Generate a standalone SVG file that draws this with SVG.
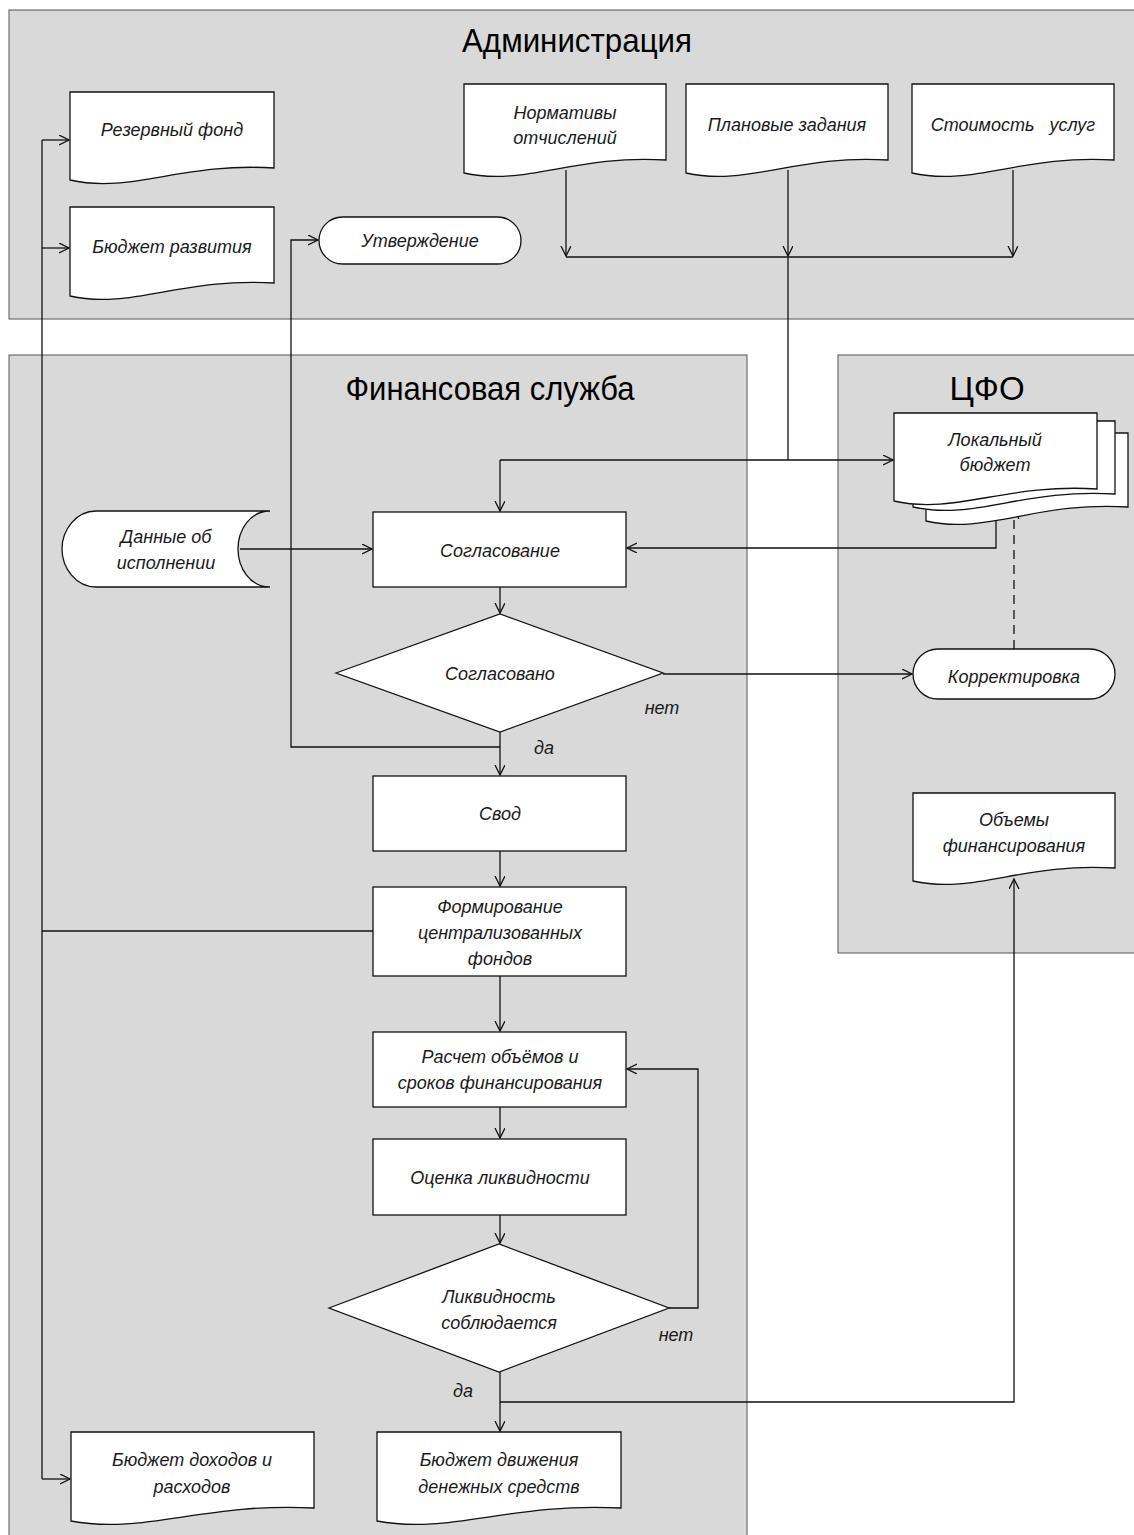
<svg xmlns="http://www.w3.org/2000/svg" width="1134" height="1535" viewBox="0 0 1134 1535">
<style>
.lane{fill:#d9d9d9;stroke:#555;stroke-width:1}
.sh{fill:#fff;stroke:#111;stroke-width:1.3}
.t{font-family:"Liberation Sans",Arial,sans-serif;font-style:italic;font-size:18px;text-anchor:middle;fill:#1a1a1a}
.h{font-family:"Liberation Sans",Arial,sans-serif;font-size:33px;text-anchor:middle;fill:#000}
.c{fill:none;stroke:#111;stroke-width:1.3}
.a{marker-end:url(#arr)}
.d{stroke-dasharray:9 6}
</style>
<defs>
<marker id="arr" markerWidth="12" markerHeight="12" refX="10" refY="5" orient="auto" markerUnits="userSpaceOnUse">
<path d="M0,0 L10,5 L0,10" fill="none" stroke="#111" stroke-width="1.3"/>
</marker>
</defs>
<rect width="1134" height="1535" fill="#fff"/>
<g id="lanes">
<rect class="lane" x="9" y="10" width="1140" height="309"/>
<rect class="lane" x="9" y="355" width="738" height="1190"/>
<rect class="lane" x="838" y="355" width="310" height="598"/>
<text class="h" x="577" y="52" textLength="230" lengthAdjust="spacingAndGlyphs">Администрация</text>
<text class="h" x="490" y="400" textLength="289" lengthAdjust="spacingAndGlyphs">Финансовая служба</text>
<text class="h" x="987" y="400">ЦФО</text>
</g>
<g id="connectors">
<path class="c a" d="M566,170 V256"/>
<path class="c a" d="M788,170 V256"/>
<path class="c a" d="M1013,170 V256"/>
<path class="c" d="M566,257 H1013"/>
<path class="c" d="M788,257 V460"/>
<path class="c a" d="M500,460 H893"/>
<path class="c a" d="M500,460 V511"/>
<path class="c a" d="M996,498 V548 H627"/>
<path class="c a" d="M240,549 H372"/>
<path class="c a" d="M500,587 V613"/>
<path class="c a" d="M663,674 H912"/>
<path class="c d a" d="M1014,649 V509"/>
<path class="c a" d="M500,732 V775"/>
<path class="c a" d="M500,747 H291 V240 H318"/>
<path class="c a" d="M500,851 V886"/>
<path class="c" d="M373,931 H42"/>
<path class="c" d="M42,140 V1479"/>
<path class="c a" d="M42,140 H69"/>
<path class="c a" d="M42,248 H69"/>
<path class="c a" d="M42,1479 H70"/>
<path class="c a" d="M500,976 V1031"/>
<path class="c a" d="M500,1107 V1138"/>
<path class="c a" d="M500,1215 V1243"/>
<path class="c a" d="M669,1308 H698 V1069 H627"/>
<path class="c a" d="M500,1372 V1431"/>
<path class="c a" d="M500,1402 H1014 V879"/>
<text class="t" x="662" y="714">нет</text>
<text class="t" x="544" y="754">да</text>
<text class="t" x="676" y="1341">нет</text>
<text class="t" x="463" y="1397">да</text>
</g>
<g id="rezervny-fond">
<path class="sh" d="M70,92 H274 V168 C182,162 131,194 70,180 Z"/>
<text class="t" x="172" y="136">Резервный фонд</text>
</g>
<g id="byudzhet-razvitiya">
<path class="sh" d="M70,207 H274 V283 C182,277 131,310 70,296 Z"/>
<text class="t" x="172" y="253">Бюджет развития</text>
</g>
<g id="utverzhdenie">
<rect class="sh" x="319" y="217" width="202" height="47" rx="23.5"/>
<text class="t" x="420" y="247">Утверждение</text>
</g>
<g id="normativy">
<path class="sh" d="M464,84 H666 V160 C575,154 525,187 464,173 Z"/>
<text class="t" x="565" y="119">Нормативы</text>
<text class="t" x="565" y="144">отчислений</text>
</g>
<g id="planovye">
<path class="sh" d="M686,84 H888 V160 C797,154 747,187 686,173 Z"/>
<text class="t" x="787" y="131">Плановые задания</text>
</g>
<g id="stoimost">
<path class="sh" d="M912,84 H1114 V160 C1023,154 973,187 912,173 Z"/>
<text class="t" x="1013" y="131" style="white-space:pre">Стоимость   услуг</text>
</g>
<g id="lokalny-byudzhet">
<path class="sh" d="M926,433 H1128 V507 C1037,501 987,535 926,521 Z"/>
<path class="sh" d="M913,421 H1115 V494 C1024,488 974,521 913,507 Z"/>
<path class="sh" d="M894,413 H1097 V489 C1006,483 955,515 894,501 Z"/>
<text class="t" x="995" y="446">Локальный</text>
<text class="t" x="995" y="471">бюджет</text>
</g>
<g id="dannye">
<path class="sh" d="M96,511 H270 C250,511 238,530 238,549 C238,568 250,587 270,587 H96 C76,587 62,568 62,549 C62,530 76,511 96,511 Z"/>
<text class="t" x="166" y="543">Данные об</text>
<text class="t" x="166" y="569">исполнении</text>
</g>
<g id="soglasovanie">
<rect class="sh" x="373" y="512" width="253" height="75"/>
<text class="t" x="500" y="557">Согласование</text>
</g>
<g id="soglasovano">
<path class="sh" d="M336,673 L500,614 L663,673 L500,732 Z"/>
<text class="t" x="500" y="680">Согласовано</text>
</g>
<g id="korrektirovka">
<rect class="sh" x="913" y="649" width="202" height="50" rx="25"/>
<text class="t" x="1014" y="683">Корректировка</text>
</g>
<g id="svod">
<rect class="sh" x="373" y="776" width="253" height="75"/>
<text class="t" x="500" y="820">Свод</text>
</g>
<g id="formirovanie">
<rect class="sh" x="373" y="887" width="253" height="89"/>
<text class="t" x="500" y="913">Формирование</text>
<text class="t" x="500" y="939">централизованных</text>
<text class="t" x="500" y="965">фондов</text>
</g>
<g id="obemy">
<path class="sh" d="M913,793 H1115 V868 C1024,862 974,895 913,881 Z"/>
<text class="t" x="1014" y="826">Объемы</text>
<text class="t" x="1014" y="852">финансирования</text>
</g>
<g id="raschet">
<rect class="sh" x="373" y="1032" width="253" height="75"/>
<text class="t" x="500" y="1063">Расчет объёмов и</text>
<text class="t" x="500" y="1089">сроков финансирования</text>
</g>
<g id="ocenka">
<rect class="sh" x="373" y="1139" width="253" height="76"/>
<text class="t" x="500" y="1184">Оценка ликвидности</text>
</g>
<g id="likvidnost">
<path class="sh" d="M329,1308 L499,1244 L669,1308 L499,1372 Z"/>
<text class="t" x="499" y="1303">Ликвидность</text>
<text class="t" x="499" y="1329">соблюдается</text>
</g>
<g id="bdr">
<path class="sh" d="M71,1432 H314 V1508 C205,1502 144,1535 71,1521 Z"/>
<text class="t" x="192" y="1466">Бюджет доходов и</text>
<text class="t" x="192" y="1493">расходов</text>
</g>
<g id="bdds">
<path class="sh" d="M377,1432 H621 V1508 C511,1502 450,1535 377,1521 Z"/>
<text class="t" x="499" y="1466">Бюджет движения</text>
<text class="t" x="499" y="1493">денежных средств</text>
</g>
</svg>
